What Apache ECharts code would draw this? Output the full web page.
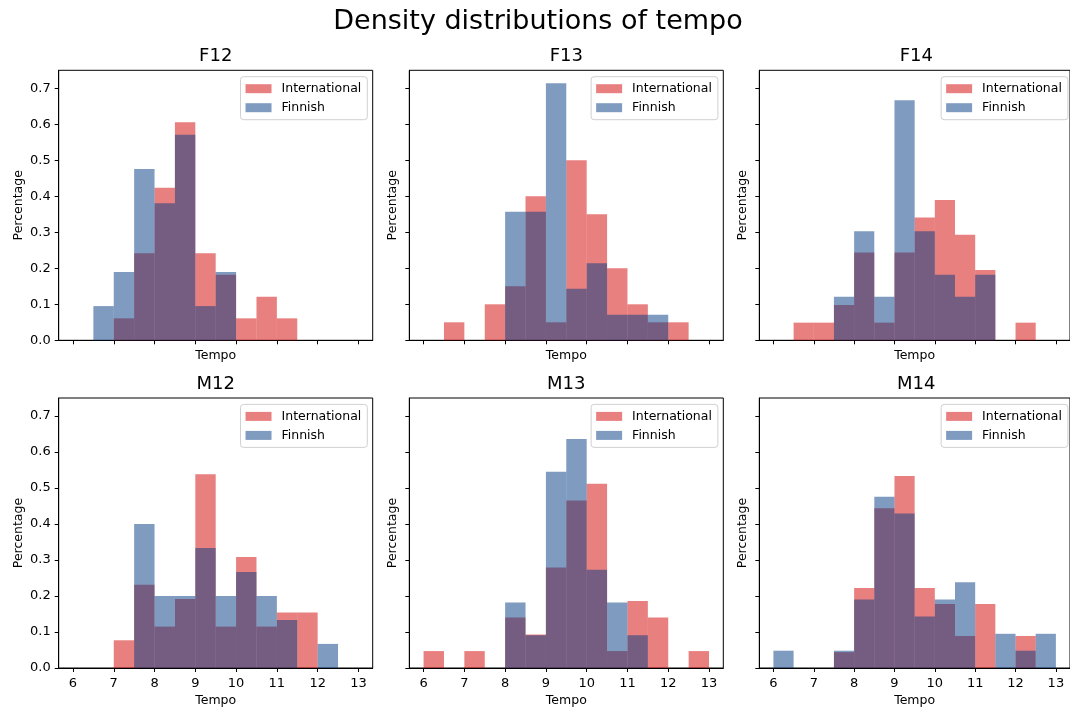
<!DOCTYPE html>
<html>
<head>
<meta charset="utf-8">
<title>Density distributions of tempo</title>
<script src="https://cdn.jsdelivr.net/npm/echarts@6/dist/echarts.min.js"></script>
<style>
  html, body { margin: 0; padding: 0; background: #fff; }
  #chart { width: 1070px; height: 709px; }
</style>
</head>
<body>
<div id="chart"></div>
<script>
// histogram bins (width 0.5) and tick labels
var binStarts = [6, 6.5, 7, 7.5, 8, 8.5, 9, 9.5, 10, 10.5, 11, 11.5, 12, 12.5];
var binWidth = 0.5;
var xTicks = [6, 7, 8, 9, 10, 11, 12, 13];
var yTicks = [0, 0.1, 0.2, 0.3, 0.4, 0.5, 0.6, 0.7];
var panels = ['F12', 'F13', 'F14', 'M12', 'M13', 'M14'];

// density per bin
var intlF12 = [0, 0, 0.061, 0.242, 0.424, 0.606, 0.242, 0.182, 0.061, 0.121, 0.061, 0, 0, 0];
var finF12  = [0, 0.095, 0.190, 0.476, 0.381, 0.571, 0.095, 0.190, 0, 0, 0, 0, 0, 0];
var intlF13 = [0, 0.05, 0, 0.10, 0.15, 0.40, 0.05, 0.50, 0.35, 0.20, 0.10, 0.05, 0.05, 0];
var finF13  = [0, 0, 0, 0, 0.357, 0.357, 0.714, 0.143, 0.214, 0.071, 0.071, 0.071, 0, 0];
var intlF14 = [0, 0.049, 0.049, 0.098, 0.244, 0.049, 0.244, 0.341, 0.390, 0.293, 0.195, 0, 0.049, 0];
var finF14  = [0, 0, 0, 0.121, 0.303, 0.121, 0.667, 0.303, 0.182, 0.121, 0.182, 0, 0, 0];
var intlM12 = [0, 0, 0.077, 0.231, 0.115, 0.192, 0.538, 0.115, 0.308, 0.115, 0.154, 0.154, 0, 0];
var finM12  = [0, 0, 0, 0.400, 0.200, 0.200, 0.333, 0.200, 0.267, 0.200, 0.133, 0, 0.067, 0];
var intlM13 = [0.047, 0, 0.047, 0, 0.140, 0.093, 0.279, 0.465, 0.512, 0.047, 0.186, 0.140, 0, 0.047];
var finM13  = [0, 0, 0, 0, 0.182, 0.091, 0.545, 0.636, 0.273, 0.182, 0.091, 0, 0, 0];
var intlM14 = [0, 0, 0, 0.044, 0.222, 0.444, 0.533, 0.222, 0.178, 0.089, 0.178, 0, 0.089, 0];
var finM14  = [0.048, 0, 0, 0.048, 0.190, 0.476, 0.429, 0.143, 0.190, 0.238, 0, 0.095, 0.048, 0.095];

var intlData = [intlF12, intlF13, intlF14, intlM12, intlM13, intlM14];
var finData  = [finF12, finF13, finF14, finM12, finM13, finM14];

var FONT = 'DejaVu Sans';
var RED = 'rgba(210, 2, 2, 0.5)';
var BLUE = 'rgba(2, 56, 130, 0.5)';

// layout of the 2x3 panel grid (px)
var colLeft = [58.7, 409.3, 759.3];
var rowTop = [70.3, 398];
var panelW = 314, panelH = 270;

function toBins(values) {
  var out = [];
  values.forEach(function (v, i) {
    if (v > 0) out.push([binStarts[i], binStarts[i] + binWidth, v]);
  });
  return out;
}

function renderBin(params, api) {
  var p0 = api.coord([api.value(0), api.value(2)]);
  var p1 = api.coord([api.value(1), 0]);
  return {
    type: 'rect',
    shape: { x: p0[0], y: p0[1], width: p1[0] - p0[0], height: p1[1] - p0[1] },
    style: api.style()
  };
}

var chart = echarts.init(document.getElementById('chart'), null, { renderer: 'canvas' });

var titles = [{
  text: 'Density distributions of tempo',
  left: 538, top: 8, textAlign: 'center', padding: 0,
  textStyle: { fontFamily: FONT, fontSize: 27, fontWeight: 'normal', color: '#000' }
}];
var grids = [], xAxes = [], yAxes = [], legends = [], series = [];

panels.forEach(function (name, i) {
  var row = Math.floor(i / 3), col = i % 3;
  var left = colLeft[col], top = rowTop[row];

  titles.push({
    text: name, left: left + panelW / 2, top: top - 23, textAlign: 'center', padding: 0,
    textStyle: { fontFamily: FONT, fontSize: 18, fontWeight: 'normal', color: '#000' }
  });

  grids.push({
    left: left, top: top, width: panelW, height: panelH,
    show: true, borderColor: '#000', borderWidth: 1, backgroundColor: 'transparent'
  });

  xAxes.push({
    type: 'value', gridIndex: i, min: 5.65, max: 13.35,
    name: 'Tempo', nameLocation: 'middle', nameGap: row === 0 ? 9 : 26,
    nameTextStyle: { fontFamily: FONT, fontSize: 12.5, color: '#000' },
    axisLine: { show: true, onZero: false, lineStyle: { color: '#000', width: 1 } },
    axisTick: { show: true, length: 4, customValues: xTicks, lineStyle: { color: '#000' } },
    axisLabel: {
      show: row === 1, customValues: xTicks, margin: 9,
      fontFamily: FONT, fontSize: 13, color: '#000'
    },
    splitLine: { show: false }
  });

  yAxes.push({
    type: 'value', gridIndex: i, min: 0, max: 0.75,
    name: 'Percentage', nameLocation: 'middle', nameGap: col === 0 ? 33 : 10,
    nameTextStyle: { fontFamily: FONT, fontSize: 12.5, color: '#000' },
    axisLine: { show: true, lineStyle: { color: '#000', width: 1 } },
    axisTick: { show: true, length: 4, customValues: yTicks, lineStyle: { color: '#000' } },
    axisLabel: {
      show: col === 0, customValues: yTicks, margin: 8,
      fontFamily: FONT, fontSize: 13, color: '#000',
      formatter: function (v) { return v.toFixed(1); }
    },
    splitLine: { show: false }
  });

  legends.push({
    orient: 'vertical',
    right: 1070 - (left + panelW - 5.4), top: top + 6.4,
    data: ['International', 'Finnish'],
    icon: 'rect', itemWidth: 26, itemHeight: 9, itemGap: 5,
    padding: [5, 6, 5, 5],
    backgroundColor: 'rgba(255,255,255,0.8)',
    borderColor: '#d0d0d0', borderWidth: 1, borderRadius: 3,
    selectedMode: false,
    textStyle: { fontFamily: FONT, fontSize: 12.5, lineHeight: 14, color: '#000', padding: [0, 0, 0, 5] }
  });

  series.push({
    type: 'custom', name: 'International', xAxisIndex: i, yAxisIndex: i,
    renderItem: renderBin, encode: { x: [0, 1], y: 2 },
    itemStyle: { color: RED }, data: toBins(intlData[i]), silent: true
  });
  series.push({
    type: 'custom', name: 'Finnish', xAxisIndex: i, yAxisIndex: i,
    renderItem: renderBin, encode: { x: [0, 1], y: 2 },
    itemStyle: { color: BLUE }, data: toBins(finData[i]), silent: true
  });
});

chart.setOption({
  animation: false,
  backgroundColor: '#fff',
  title: titles,
  grid: grids,
  xAxis: xAxes,
  yAxis: yAxes,
  legend: legends,
  series: series
});
</script>
</body>
</html>
